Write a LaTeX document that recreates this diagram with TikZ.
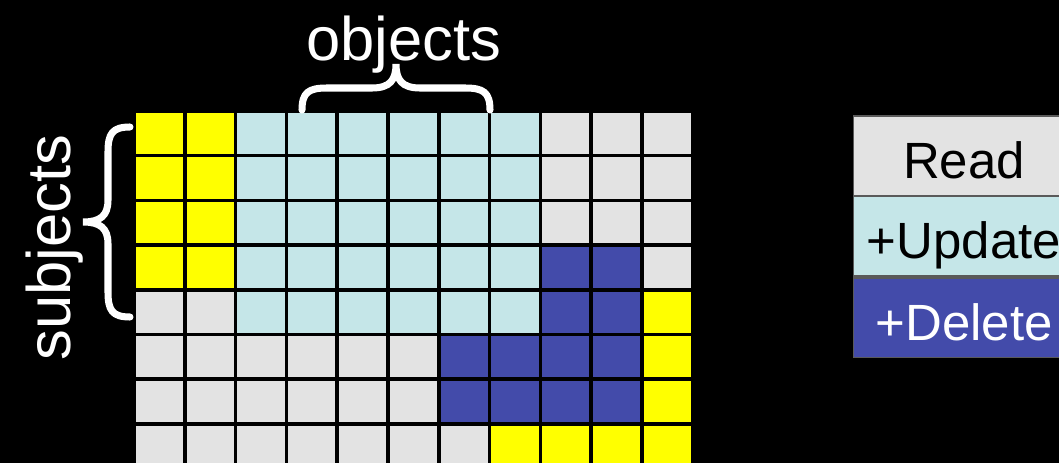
\documentclass[tikz,border=0pt]{standalone}
\usepackage{fontspec}
\setmainfont{Liberation Sans}
\usetikzlibrary{positioning}
\definecolor{cO}{HTML}{FFFF00}
\definecolor{cR}{HTML}{E3E3E3}
\definecolor{cU}{HTML}{C5E6E8}
\definecolor{cD}{HTML}{434BAA}
\definecolor{cEdge}{HTML}{5A5A5A}
\tikzset{
  cell/.style={draw=black, line width=2pt},
  brc/.style={draw=white, line width=4pt, line cap=round},
  lab/.style={text=white, inner sep=0pt, font=\fontsize{35}{40}\selectfont},
  legbox/.style={draw=cEdge, line width=0.6pt, inner sep=0pt, outer sep=0pt,
                 minimum width=4.44cm, minimum height=1.6cm,
                 text height=1.0cm, text depth=0.08cm,
                 font=\fontsize{29}{34}\selectfont},
}

\begin{document}
\begin{tikzpicture}[x=0.02cm,y=-0.02cm]

% ------------------------------------------------------------ canvas
\fill[black] (0,0) rectangle (1059,463);
\useasboundingbox (0,0) rectangle (1059,463);
\clip (0,0) rectangle (1059,463);

% ------------------------------------------------------------ access matrix
\foreach \row [count=\r from 0] in {
    {O,O,U,U,U,U,U,U,R,R,R},
    {O,O,U,U,U,U,U,U,R,R,R},
    {O,O,U,U,U,U,U,U,R,R,R},
    {O,O,U,U,U,U,U,U,D,D,R},
    {R,R,U,U,U,U,U,U,D,D,O},
    {R,R,R,R,R,R,D,D,D,D,O},
    {R,R,R,R,R,R,D,D,D,D,O},
    {R,R,R,R,R,R,R,O,O,O,O}}
  \foreach \c [count=\k from 0] in \row
    \draw[cell, fill=c\c] ({134+\k*50.8},{111+\r*44.7}) rectangle +(50.8,44.7);

% ------------------------------------------------------------ axis labels
\node[lab, anchor=base] (obj) at (403.5,60) {objects};
\draw[brc] (302,110) .. controls (302,92) and (309,88) .. (327,88)
      -- (372,88) .. controls (390,88) and (396,80) .. (396,64)
      .. controls (396,80) and (402,88) .. (420,88)
      -- (465,88) .. controls (483,88) and (490,92) .. (490,110);

\node[lab, rotate=90, anchor=base] (subj) at (71,247.5) {subjects};
\draw[brc] (130,127) .. controls (112,127) and (108,134) .. (108,152)
      -- (108,200) .. controls (108,216) and (100,222) .. (83,222)
      .. controls (100,222) and (108,228) .. (108,244)
      -- (108,292) .. controls (108,310) and (112,317) .. (130,317);

% ------------------------------------------------------------ legend
\node[legbox, fill=cR] (rd) at (964,156) {Read};
\node[legbox, fill=cU, below=0pt of rd] (upd) {+Update};
\node[legbox, fill=cD, text=white, below=0.04cm of upd] (del) {+Delete};

\end{tikzpicture}
\end{document}
